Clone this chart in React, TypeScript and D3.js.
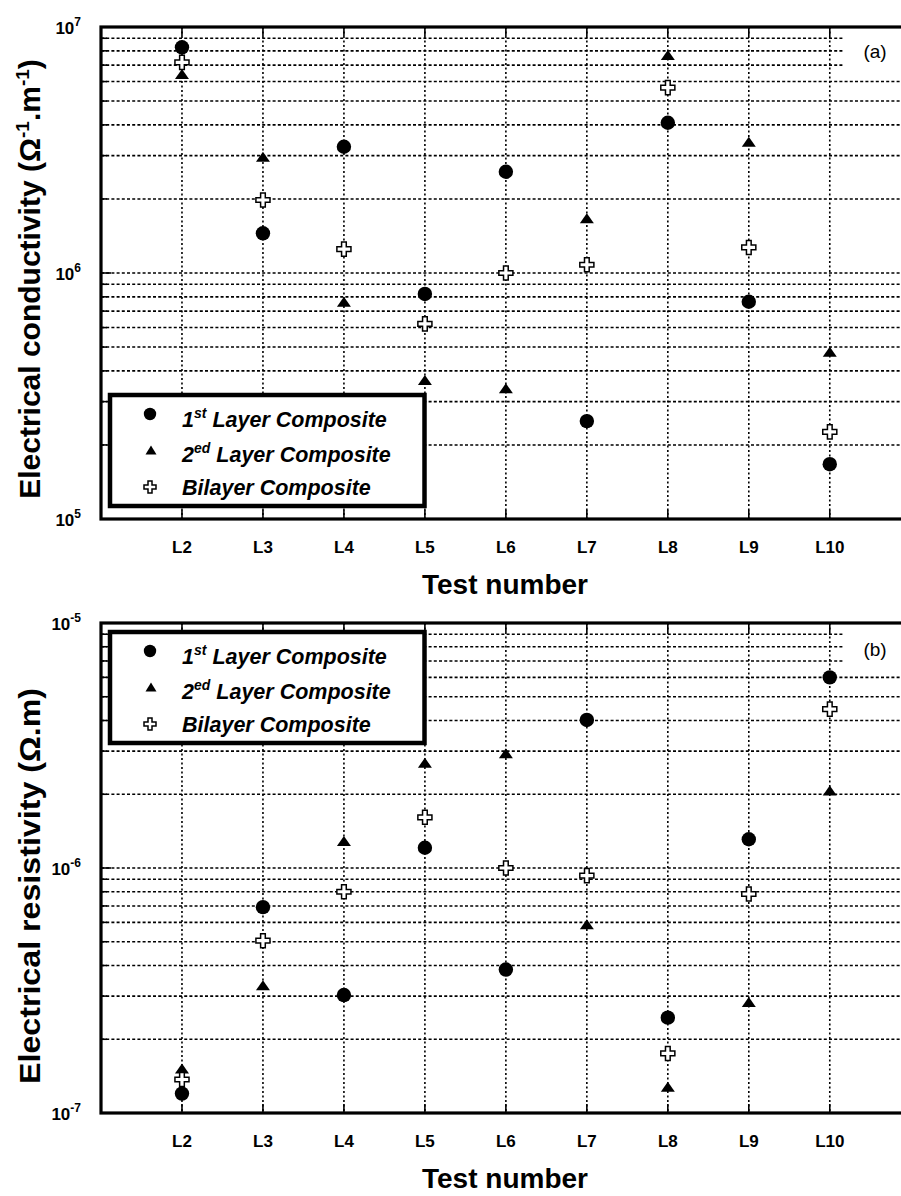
import React, { useRef, useEffect } from "react";
import * as d3 from "d3";

// test labels (x categories)
const tests = ["L2", "L3", "L4", "L5", "L6", "L7", "L8", "L9", "L10"];

// (a) electrical conductivity, Ω-1.m-1
const cond1st = [8.27e6, 1.45e6, 3.26e6, 8.22e5, 2.58e6, 2.5e5, 4.08e6, 7.64e5, 1.67e5];
const cond2ed = [6.44e6, 2.97e6, 7.64e5, 3.67e5, 3.4e5, 1.67e6, 7.69e6, 3.42e6, 4.79e5];
const condBi = [7.18e6, 1.98e6, 1.25e6, 6.21e5, 1.0e6, 1.08e6, 5.67e6, 1.27e6, 2.26e5];

// (b) electrical resistivity, Ω.m
const res1st = [1.2e-7, 6.92e-7, 3.03e-7, 1.21e-6, 3.85e-7, 4.02e-6, 2.45e-7, 1.31e-6, 6.0e-6];
const res2ed = [1.52e-7, 3.32e-7, 1.29e-6, 2.69e-6, 2.94e-6, 5.9e-7, 1.28e-7, 2.84e-7, 2.07e-6];
const resBi = [1.37e-7, 5.05e-7, 8.0e-7, 1.61e-6, 1.0e-6, 9.31e-7, 1.75e-7, 7.83e-7, 4.45e-6];

// decade exponents on the y axes
const condExps = [5, 6, 7];
const resExps = [-7, -6, -5];

// legend text pieces
const legendNum = ["1", "2", ""];
const legendSup = ["st", "ed", ""];
const legendRest = [" Layer Composite", " Layer Composite", "Bilayer Composite"];

const FONT = "'Liberation Sans', Arial, Helvetica, sans-serif";
const W = 901;
const H = 1196;

const App = () => {
  const svgRef = useRef(null);

  useEffect(() => {
    const svg = d3.select(svgRef.current);
    svg.selectAll("*").remove();

    const x = d3.scaleLinear().domain([1, 11]).range([101, 910.75]);
    const xOf = (i) => x(i + 2);

    const circle = (g, cx, cy, r) =>
      g.append("circle").attr("cx", cx).attr("cy", cy).attr("r", r).attr("fill", "#000");

    const triangle = (g, cx, cy, w, h) =>
      g
        .append("path")
        .attr("d", `M${cx},${cy - h / 2}L${cx + w / 2},${cy + h / 2}L${cx - w / 2},${cy + h / 2}Z`)
        .attr("fill", "#000");

    const cross = (g, cx, cy, size) =>
      g
        .append("path")
        .attr("transform", `translate(${cx},${cy})`)
        .attr("d", d3.symbol(d3.symbolCross, size)())
        .attr("fill", "#fff")
        .attr("stroke", "#000")
        .attr("stroke-width", 1.5);

    const drawPanel = (opts) => {
      const { top, bottom, exps, series, title, titleY, titleLen, tag, tagY, legendY } = opts;
      const g = svg.append("g");
      const y = d3
        .scaleLog()
        .domain([Math.pow(10, exps[0]), Math.pow(10, exps[exps.length - 1])])
        .range([bottom, top]);
      const topDecade = exps[exps.length - 1] - 1;

      // horizontal gridlines
      const grid = [];
      for (let e = exps[0]; e < exps[exps.length - 1]; e++) {
        for (let k = 1; k <= 9; k++) {
          if (k === 1 && e === exps[0]) continue;
          grid.push({ v: k * Math.pow(10, e), k, e });
        }
      }
      grid.forEach((d) => {
        const short = d.e === topDecade && d.k >= 7;
        g.append("line")
          .attr("x1", 101)
          .attr("x2", short ? 843 : 910)
          .attr("y1", y(d.v))
          .attr("y2", y(d.v))
          .attr("stroke", "#000")
          .attr("stroke-width", 1.6)
          .attr("stroke-dasharray", "3,2.2");
        // left inward ticks
        g.append("line")
          .attr("x1", 101)
          .attr("x2", 101 + (d.k === 1 ? 10 : 6))
          .attr("y1", y(d.v))
          .attr("y2", y(d.v))
          .attr("stroke", "#000")
          .attr("stroke-width", 1.6);
      });

      // vertical gridlines + ticks
      tests.forEach((t, i) => {
        g.append("line")
          .attr("x1", xOf(i))
          .attr("x2", xOf(i))
          .attr("y1", top)
          .attr("y2", bottom)
          .attr("stroke", "#000")
          .attr("stroke-width", 1.6)
          .attr("stroke-dasharray", "2,2.5");
        g.append("line")
          .attr("x1", xOf(i))
          .attr("x2", xOf(i))
          .attr("y1", top)
          .attr("y2", top + 9)
          .attr("stroke", "#000")
          .attr("stroke-width", 1.6);
        g.append("line")
          .attr("x1", xOf(i))
          .attr("x2", xOf(i))
          .attr("y1", bottom)
          .attr("y2", bottom - 9)
          .attr("stroke", "#000")
          .attr("stroke-width", 1.6);
        g.append("text")
          .attr("x", xOf(i))
          .attr("y", bottom + 34)
          .attr("text-anchor", "middle")
          .attr("font-family", FONT)
          .attr("font-weight", "bold")
          .attr("font-size", 17)
          .text(t);
      });

      // frame
      g.append("rect")
        .attr("x", 101)
        .attr("y", top)
        .attr("width", 809.75)
        .attr("height", bottom - top)
        .attr("fill", "none")
        .attr("stroke", "#000")
        .attr("stroke-width", 3.2);

      // y tick labels
      exps.forEach((e) => {
        const tx = g
          .append("text")
          .attr("x", 81)
          .attr("y", y(Math.pow(10, e)) + 7)
          .attr("text-anchor", "end")
          .attr("font-family", FONT)
          .attr("font-weight", "bold")
          .attr("font-size", 17);
        tx.append("tspan").text("10");
        tx.append("tspan").attr("dy", -8).attr("font-size", 12).text(String(e));
      });

      // markers
      series[0].forEach((v, i) => circle(g, xOf(i), y(v), 7.2));
      series[1].forEach((v, i) => triangle(g, xOf(i), y(v), 14, 10));
      series[2].forEach((v, i) => cross(g, xOf(i), y(v), 110));

      // axis titles
      g.append("text")
        .attr("x", 505)
        .attr("y", bottom + 75)
        .attr("text-anchor", "middle")
        .attr("font-family", FONT)
        .attr("font-weight", "bold")
        .attr("font-size", 28)
        .text("Test number");

      const yt = g
        .append("text")
        .attr("transform", `translate(40,${titleY}) rotate(-90)`)
        .attr("text-anchor", "middle")
        .attr("font-family", FONT)
        .attr("font-weight", "bold")
        .attr("font-size", 30);
      if (titleLen) yt.attr("textLength", titleLen).attr("lengthAdjust", "spacingAndGlyphs");
      title.forEach((p) => {
        const s = yt.append("tspan").text(p.t);
        if (p.sup) s.attr("font-size", 19).attr("dy", -11);
        if (p.down) s.attr("dy", 11);
      });

      g.append("text")
        .attr("x", 875)
        .attr("y", tagY)
        .attr("text-anchor", "middle")
        .attr("font-family", FONT)
        .attr("font-size", 19)
        .text(tag);

      // legend
      const lg = g.append("g");
      lg.append("rect")
        .attr("x", 110)
        .attr("y", legendY)
        .attr("width", 314.5)
        .attr("height", 111)
        .attr("fill", "#fff")
        .attr("stroke", "#000")
        .attr("stroke-width", 4.5);
      const rows = [32, 67, 100];
      rows.forEach((dy, i) => {
        const by = legendY + dy;
        if (i === 0) circle(lg, 150, by - 13, 6.2);
        if (i === 1) triangle(lg, 151, by - 12, 11, 9);
        if (i === 2) cross(lg, 150, by - 8, 80);
        const t = lg
          .append("text")
          .attr("x", 182)
          .attr("y", by)
          .attr("font-family", FONT)
          .attr("font-weight", "bold")
          .attr("font-style", "italic")
          .attr("font-size", 21.5);
        if (legendNum[i]) {
          t.append("tspan").text(legendNum[i]);
          t.append("tspan").attr("dy", -9).attr("font-size", 14).text(legendSup[i]);
          t.append("tspan").attr("dy", 9).text(legendRest[i]);
        } else {
          t.append("tspan").text(legendRest[i]);
        }
      });
    };

    drawPanel({
      top: 27,
      bottom: 519,
      exps: condExps,
      series: [cond1st, cond2ed, condBi],
      title: [
        { t: "Electrical conductivity (Ω" },
        { t: "-1", sup: true },
        { t: ".m", down: true },
        { t: "-1", sup: true },
        { t: ")", down: true },
      ],
      titleY: 279,
      titleLen: 0,
      tag: "(a)",
      tagY: 58,
      legendY: 395,
    });

    drawPanel({
      top: 623,
      bottom: 1113,
      exps: resExps,
      series: [res1st, res2ed, resBi],
      title: [{ t: "Electrical resistivity (Ω.m)" }],
      titleY: 886,
      titleLen: 396,
      tag: "(b)",
      tagY: 656,
      legendY: 632,
    });
  }, []);

  return (
    <svg
      ref={svgRef}
      width={W}
      height={H}
      style={{ position: "absolute", left: 0, top: 0, background: "white" }}
    ></svg>
  );
};

export default App;
